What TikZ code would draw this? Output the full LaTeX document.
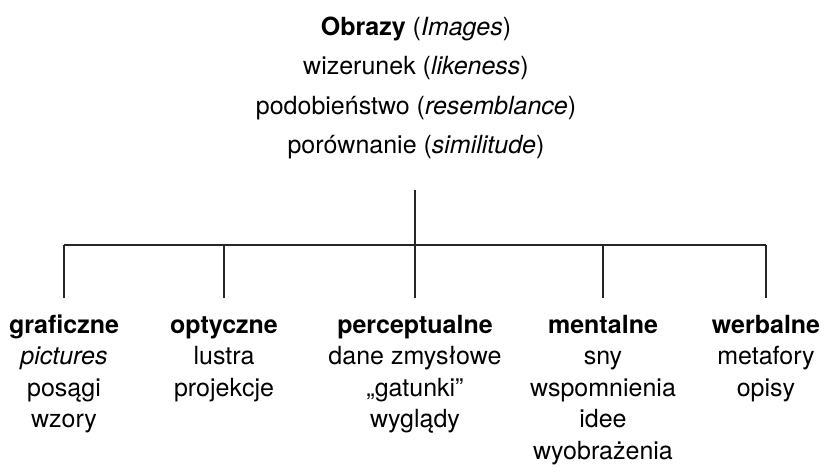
\documentclass[tikz,border=0pt]{standalone}
\usepackage{fontspec}
\setmainfont{TeX Gyre Heros}
\begin{document}
\begin{tikzpicture}[x=1pt,y=-1pt,
  every node/.style={inner sep=0pt, align=center},
  txt/.style={anchor=base, font=\fontsize{25}{31.5}\selectfont},
  head/.style={anchor=base, font=\fontsize{25}{39.5}\selectfont},
  conn/.style={line width=1.1pt, draw=black!85}]
\useasboundingbox (0,0) rectangle (824,466);
% base anchor = baseline of the last line
\node[head] (t) at (416,153.5) {\textbf{Obrazy} (\textit{Images})\\wizerunek (\textit{likeness})\\podobieństwo (\textit{resemblance})\\porównanie (\textit{similitude})};
\node[txt] (g) at (64,427.5) {\textbf{graficzne}\\\textit{pictures}\\posągi\\wzory};
\node[txt] (o) at (224,396) {\textbf{optyczne}\\lustra\\projekcje};
\node[txt] (p) at (415,427.5) {\textbf{perceptualne}\\dane zmysłowe\\„gatunki”\\wyglądy};
\node[txt] (m) at (603,459) {\textbf{mentalne}\\sny\\wspomnienia\\idee\\wyobrażenia};
\node[txt] (w) at (766,396) {\textbf{werbalne}\\metafory\\opisy};
\coordinate (ttail) at (415,190);
\coordinate (bar) at (415,245);
\draw[conn] (ttail) -- (bar);
\draw[conn] (g.north |- bar) -- (w.north |- bar);
\foreach \n in {g,o,p,m,w}
  \draw[conn] (\n.north |- bar) -- ++(0,53);
\end{tikzpicture}
\end{document}
